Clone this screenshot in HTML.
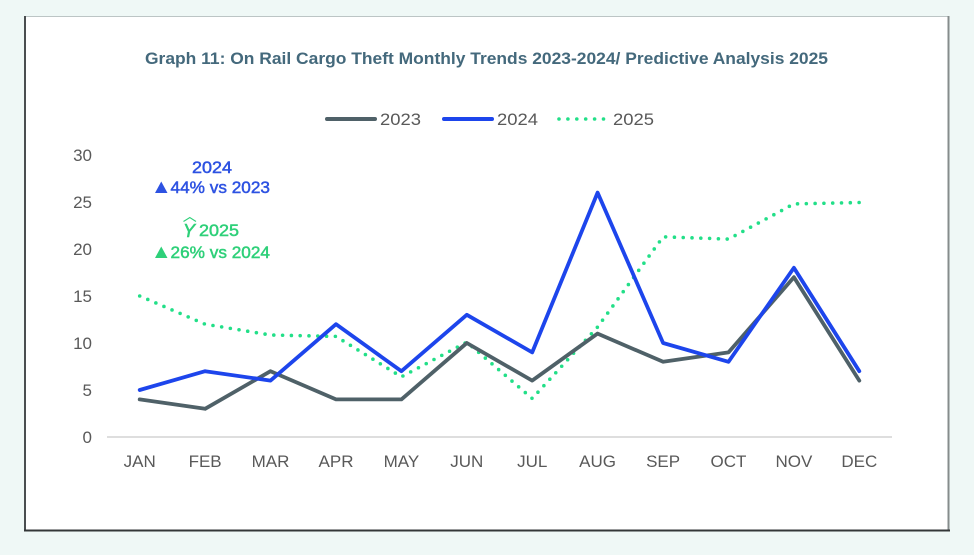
<!DOCTYPE html>
<html>
<head>
<meta charset="utf-8">
<style>
  html,body{margin:0;padding:0;background:#eff8f6;}
  body{width:974px;height:555px;overflow:hidden;}
  svg{display:block;}
  text{font-family:"Liberation Sans", "DejaVu Sans", sans-serif;}
</style>
</head>
<body>
<svg width="974" height="555" viewBox="0 0 974 555" xmlns="http://www.w3.org/2000/svg">
  <rect x="0" y="0" width="974" height="555" fill="#eff8f6"/>
  <!-- chart box -->
  <rect x="24.5" y="16.5" width="924" height="514" fill="#ffffff" stroke="#bcc5c5" stroke-width="1"/>
  <line x1="25" y1="16" x2="25" y2="531" stroke="#4a4e50" stroke-width="2"/>
  <line x1="948.5" y1="16" x2="948.5" y2="531" stroke="#868c8c" stroke-width="2"/>
  <line x1="24" y1="530.5" x2="950" y2="530.5" stroke="#333738" stroke-width="2"/>

  <!-- title -->
  <text x="145" y="64" font-size="17" font-weight="bold" fill="#44697c" textLength="683" lengthAdjust="spacingAndGlyphs">Graph 11: On Rail Cargo Theft Monthly Trends 2023-2024/ Predictive Analysis 2025</text>

  <!-- legend -->
  <line x1="327" y1="119" x2="375" y2="119" stroke="#4f6168" stroke-width="4" stroke-linecap="round"/>
  <text x="380" y="125" font-size="17" fill="#595959" textLength="41" lengthAdjust="spacingAndGlyphs">2023</text>
  <line x1="444" y1="119" x2="492" y2="119" stroke="#1d45ec" stroke-width="4" stroke-linecap="round"/>
  <text x="497" y="125" font-size="17" fill="#595959" textLength="41" lengthAdjust="spacingAndGlyphs">2024</text>
  <line x1="559" y1="119" x2="604" y2="119" stroke="#22df88" stroke-width="3.6" stroke-linecap="round" stroke-dasharray="0 8.9"/>
  <text x="613" y="125" font-size="17" fill="#595959" textLength="41" lengthAdjust="spacingAndGlyphs">2025</text>

  <!-- y axis labels -->
  <g font-size="17" fill="#595959" text-anchor="end">
    <text x="92" y="443">0</text>
    <text x="92" y="396">5</text>
    <text x="92" y="349">10</text>
    <text x="92" y="302">15</text>
    <text x="92" y="255">20</text>
    <text x="92" y="208">25</text>
    <text x="92" y="161">30</text>
  </g>

  <!-- x axis line -->
  <line x1="107" y1="437" x2="892" y2="437" stroke="#d9d9d9" stroke-width="1.8"/>

  <!-- month labels -->
  <g font-size="17" fill="#595959" text-anchor="middle">
    <text x="139.7" y="467">JAN</text>
    <text x="205.1" y="467">FEB</text>
    <text x="270.5" y="467">MAR</text>
    <text x="336.0" y="467">APR</text>
    <text x="401.4" y="467">MAY</text>
    <text x="466.8" y="467">JUN</text>
    <text x="532.2" y="467">JUL</text>
    <text x="597.6" y="467">AUG</text>
    <text x="663.1" y="467">SEP</text>
    <text x="728.5" y="467">OCT</text>
    <text x="793.9" y="467">NOV</text>
    <text x="859.3" y="467">DEC</text>
  </g>

  <!-- 2025 dotted -->
  <polyline fill="none" stroke="#22df88" stroke-width="3.6" stroke-linecap="round" stroke-linejoin="round" stroke-dasharray="0 8.8"
    points="139.7,296 205.1,324.2 270.5,335 336.0,336.4 401.4,376.8 466.8,342.1 532.2,398.5 597.6,327 663.1,236.8 728.5,239.1 793.9,203.9 859.3,202.5"/>

  <!-- 2023 -->
  <polyline fill="none" stroke="#4f6168" stroke-width="3.8" stroke-linecap="round" stroke-linejoin="round"
    points="139.7,399.4 205.1,408.8 270.5,371.2 336.0,399.4 401.4,399.4 466.8,343 532.2,380.6 597.6,333.6 663.1,361.8 728.5,352.4 793.9,277.2 859.3,380.6"/>

  <!-- 2024 -->
  <polyline fill="none" stroke="#1d45ec" stroke-width="3.8" stroke-linecap="round" stroke-linejoin="round"
    points="139.7,390 205.1,371.2 270.5,380.6 336.0,324.2 401.4,371.2 466.8,314.8 532.2,352.4 597.6,192.6 663.1,343 728.5,361.8 793.9,267.8 859.3,371.2"/>

  <!-- annotations -->
  <g fill="#2d52e2" stroke="#2d52e2" stroke-width="0.5" font-size="17">
    <text x="192" y="173" textLength="40" lengthAdjust="spacingAndGlyphs">2024</text>
    <polygon points="155,193 167.5,193 161.25,181.5" stroke="none"/>
    <text x="170.5" y="193" textLength="99.5" lengthAdjust="spacingAndGlyphs">44% vs 2023</text>
  </g>
  <g fill="#2ed079" stroke="#2ed079" stroke-width="0.5" font-size="17">
    <text x="183" y="237" font-family="Liberation Serif, serif" font-style="italic" font-size="18" stroke-width="0.6" textLength="12" lengthAdjust="spacingAndGlyphs">Y</text>
    <path d="M183.5,221.5 L189.8,217.5 L196,221.5" fill="none" stroke-width="1.1"/>
    <text x="199" y="236" textLength="40" lengthAdjust="spacingAndGlyphs">2025</text>
    <polygon points="155,258 167.5,258 161.25,246.5" stroke="none"/>
    <text x="170.5" y="258" textLength="99.5" lengthAdjust="spacingAndGlyphs">26% vs 2024</text>
  </g>
</svg>
</body>
</html>
